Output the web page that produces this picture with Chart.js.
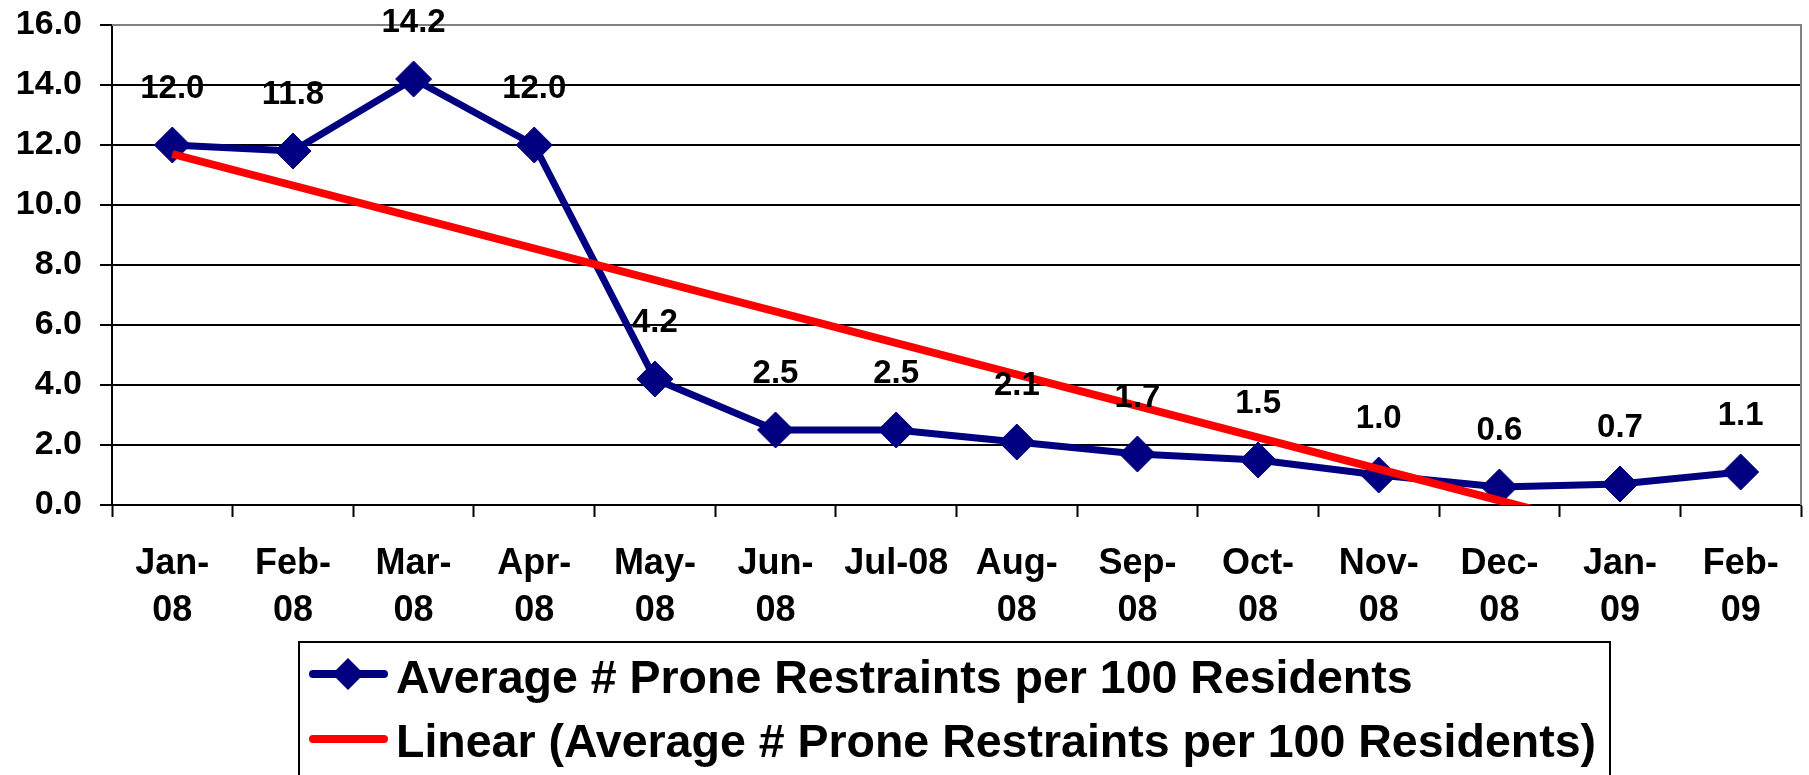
<!DOCTYPE html>
<html>
<head>
<meta charset="utf-8">
<script src="https://cdn.jsdelivr.net/npm/chart.js@4/dist/chart.umd.min.js"></script>
<style>
  html, body { margin: 0; padding: 0; background: #fff; overflow: hidden; }
  canvas { display: block; }
</style>
</head>
<body>
<canvas id="chart" width="1809" height="775"></canvas>
<script>
const FONT = "'Liberation Sans', Arial, sans-serif";

const months = [
  ['Jan-', '08'], ['Feb-', '08'], ['Mar-', '08'], ['Apr-', '08'], ['May-', '08'],
  ['Jun-', '08'], 'Jul-08', ['Aug-', '08'], ['Sep-', '08'], ['Oct-', '08'],
  ['Nov-', '08'], ['Dec-', '08'], ['Jan-', '09'], ['Feb-', '09']
];
const restraints = [12.0, 11.8, 14.2, 12.0, 4.2, 2.5, 2.5, 2.1, 1.7, 1.5, 1.0, 0.6, 0.7, 1.1];
// trend line: starts at Jan-08, runs below the axis by Jan-09 (clipped)
const trend = [11.7, null, null, null, null, null, null, null, null, null, null, null, -0.9, null];
const yMin = 0, yMax = 16, yStep = 2;

const seriesName = 'Average # Prone Restraints per 100 Residents';
const trendName = 'Linear (' + seriesName + ')';

const NAVY = '#000080';
const RED = '#ff0000';

// value labels above each point
const valueLabels = {
  id: 'valueLabels',
  afterDatasetsDraw(chart) {
    const ctx = chart.ctx;
    const meta = chart.getDatasetMeta(1);
    ctx.save();
    ctx.font = 'bold 33px ' + FONT;
    ctx.fillStyle = '#000';
    ctx.textAlign = 'center';
    ctx.textBaseline = 'middle';
    meta.data.forEach((pt, i) => {
      ctx.fillText(restraints[i].toFixed(1), pt.x, pt.y - 56);
    });
    ctx.restore();
  }
};

// grey frame on top / right of the plot area
const plotFrame = {
  id: 'plotFrame',
  beforeDatasetsDraw(chart) {
    const { ctx, chartArea: a } = chart;
    ctx.save();
    ctx.strokeStyle = '#808080';
    ctx.lineWidth = 2;
    ctx.beginPath();
    ctx.moveTo(a.left, a.top);
    ctx.lineTo(a.right, a.top);
    ctx.lineTo(a.right, a.bottom);
    ctx.stroke();
    ctx.restore();
  }
};

// boxed legend under the axis
const boxLegend = {
  id: 'boxLegend',
  afterDraw(chart) {
    const ctx = chart.ctx;
    const ds = chart.data.datasets;
    ctx.save();
    ctx.strokeStyle = '#000';
    ctx.lineWidth = 2;
    ctx.strokeRect(299, 642, 1311, 200);

    const rows = [
      { y: 674, base: 693, color: ds[1].borderColor, marker: true, text: ds[1].label },
      { y: 739, base: 757, color: ds[0].borderColor, marker: false, text: ds[0].label }
    ];
    rows.forEach(r => {
      ctx.strokeStyle = r.color;
      ctx.lineWidth = 8;
      ctx.lineCap = 'round';
      ctx.beginPath();
      ctx.moveTo(313, r.y);
      ctx.lineTo(384, r.y);
      ctx.stroke();
      if (r.marker) {
        ctx.fillStyle = r.color;
        ctx.beginPath();
        ctx.moveTo(348, r.y - 16);
        ctx.lineTo(364, r.y);
        ctx.lineTo(348, r.y + 16);
        ctx.lineTo(332, r.y);
        ctx.closePath();
        ctx.fill();
      }
      ctx.fillStyle = '#000';
      ctx.font = 'bold 46.5px ' + FONT;
      ctx.textAlign = 'left';
      ctx.textBaseline = 'alphabetic';
      ctx.fillText(r.text, 396, r.base);
    });
    ctx.restore();
  }
};

const noPad = s => {
  s.paddingTop = 0; s.paddingBottom = 0;
  s.paddingLeft = 0; s.paddingRight = 0;
};

new Chart(document.getElementById('chart'), {
  type: 'line',
  data: {
    labels: months,
    datasets: [
      {
        label: trendName,
        data: trend,
        borderColor: RED,
        backgroundColor: RED,
        borderWidth: 8,
        pointRadius: 0,
        spanGaps: true,
        clip: 0,
        order: 1
      },
      {
        label: seriesName,
        data: restraints,
        borderColor: NAVY,
        backgroundColor: NAVY,
        borderWidth: 7,
        borderJoinStyle: 'round',
        pointStyle: 'rectRot',
        pointRadius: 18,
        pointBorderWidth: 1,
        pointBackgroundColor: NAVY,
        pointBorderColor: NAVY,
        clip: false,
        tension: 0,
        order: 2
      }
    ]
  },
  options: {
    responsive: false,
    animation: false,
    devicePixelRatio: 1,
    layout: { autoPadding: false, padding: { left: 0, top: 25, right: 8, bottom: 0 } },
    plugins: {
      legend: { display: false },
      tooltip: { enabled: false }
    },
    scales: {
      x: {
        offset: true,
        grid: {
          offset: true,
          drawOnChartArea: false,
          drawTicks: true,
          tickLength: 12,
          tickColor: '#000',
          tickWidth: 2
        },
        border: { color: '#000', width: 2 },
        ticks: {
          color: '#000',
          font: { family: FONT, size: 36, weight: 'bold', lineHeight: 1.3 },
          padding: 24,
          maxRotation: 0,
          autoSkip: false
        },
        afterFit: s => { s.height = 270; noPad(s); }
      },
      y: {
        min: yMin,
        max: yMax,
        grid: {
          color: c => (c.tick && c.tick.value === yMax ? '#808080' : '#000'),
          lineWidth: 2,
          tickLength: 12,
          tickColor: '#000',
          tickWidth: 2
        },
        border: { color: '#000', width: 2 },
        ticks: {
          stepSize: yStep,
          color: '#000',
          font: { family: FONT, size: 34, weight: 'bold' },
          padding: 18,
          callback: v => v.toFixed(1)
        },
        afterFit: s => { s.width = 112; noPad(s); }
      }
    }
  },
  plugins: [plotFrame, valueLabels, boxLegend]
});
</script>
</body>
</html>
